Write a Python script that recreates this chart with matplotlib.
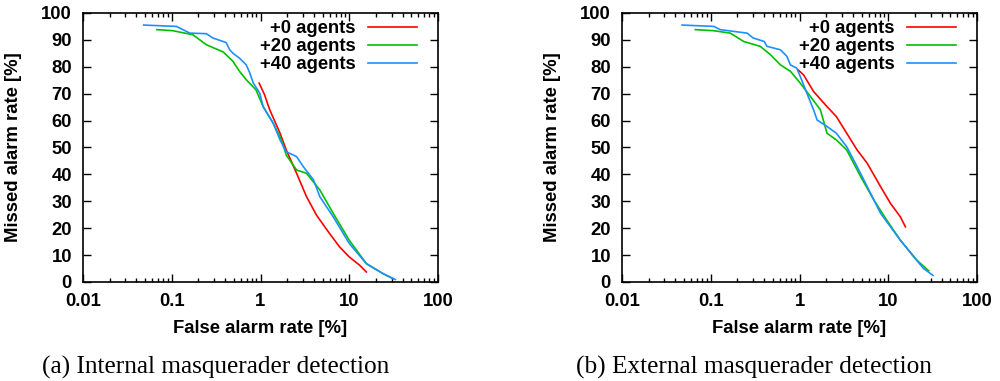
import matplotlib
matplotlib.use("Agg")
import matplotlib.pyplot as plt
import numpy as np

# panel (a) internal masquerader detection
int_fa_0 = [0.966, 1.11, 1.27, 1.66, 1.95, 2.55, 3.3, 4.28, 6.0, 7.8, 10, 13.1, 15.6]
int_ma_0 = [73.9, 69.6, 64.0, 55.3, 49.1, 40.4, 31.7, 24.8, 18.0, 13.0, 9.3, 6.2, 3.7]
int_fa_20 = [0.068, 0.103, 0.173, 0.245, 0.38, 0.49, 0.58, 0.69, 0.89, 1.07, 1.39, 1.72,
             1.95, 2.55, 3.3, 4.66, 6.6, 10, 15.6, 24, 31]
int_ma_20 = [93.8, 93.4, 91.9, 88.2, 85.5, 82.0, 78.3, 75.2, 71.4, 65.2, 59.0, 52.8,
             47.2, 41.6, 40.4, 34.2, 25.5, 15.5, 6.8, 3.1, 1.2]
int_fa_40 = [0.0483, 0.113, 0.16, 0.245, 0.29, 0.41, 0.45, 0.49, 0.58, 0.69, 0.76, 0.83,
             0.98, 1.07, 1.39, 1.66, 1.95, 2.55, 3.03, 3.96, 4.66, 6.6, 10, 15.6, 24, 33]
int_ma_40 = [95.5, 95.0, 92.5, 92.3, 90.7, 89.0, 86.3, 85.0, 83.2, 80.7, 77.6, 73.9,
             70.2, 65.2, 59.0, 52.8, 48.4, 46.6, 42.9, 37.9, 31.7, 24.2, 14.3, 6.8, 3.1, 0.9]

# panel (b) external masquerader detection
ext_fa_0 = [0.96, 1.11, 1.44, 2.04, 2.6, 3.4, 4.45, 5.8, 8.2, 10.6, 13.7, 15.6]
ext_ma_0 = [78.9, 77.0, 70.8, 65.2, 61.5, 55.3, 49.1, 44.1, 35.4, 29.2, 24.2, 20.5]
ext_fa_20 = [0.067, 0.108, 0.166, 0.235, 0.36, 0.47, 0.61, 0.79, 1.02, 1.33, 1.72, 2.04,
             2.6, 3.4, 4.9, 6.9, 9.6, 13.7, 21, 28.6]
ext_ma_20 = [93.8, 93.4, 92.5, 89.4, 87.6, 84.5, 80.7, 78.3, 73.9, 68.9, 64.0, 55.3,
             52.8, 49.1, 39.1, 30.4, 23.0, 15.5, 8.1, 4.1]
ext_fa_40 = [0.0475, 0.108, 0.128, 0.257, 0.30, 0.40, 0.43, 0.61, 0.72, 0.79, 0.93, 1.02,
             1.21, 1.44, 1.58, 2.04, 2.6, 3.4, 4.45, 5.8, 8.2, 10.6, 13.7, 19.4, 25, 32]
ext_ma_40 = [95.5, 95.0, 93.8, 92.5, 90.7, 89.4, 87.6, 86.3, 83.9, 80.7, 79.5, 76.4,
             70.2, 64.0, 60.2, 57.8, 55.3, 50.3, 42.9, 35.4, 25.5, 20.5, 15.5, 9.3, 5.0, 2.4]

labels = ["+0 agents", "+20 agents", "+40 agents"]
colors = ["#ff0000", "#00c000", "#1e8fff"]
captions = ["(a) Internal masquerader detection", "(b) External masquerader detection"]

panels = [
    [(int_fa_0, int_ma_0), (int_fa_20, int_ma_20), (int_fa_40, int_ma_40)],
    [(ext_fa_0, ext_ma_0), (ext_fa_20, ext_ma_20), (ext_fa_40, ext_ma_40)],
]

plt.rcParams['font.family'] = ['Liberation Sans', 'DejaVu Sans']
plt.rcParams['font.weight'] = 'bold'

fig = plt.figure(figsize=(10, 3.81), dpi=100)
lefts = [0.083, 0.622]
cap_x = [0.216, 0.754]

for k in range(2):
    ax = fig.add_axes([lefts[k], 0.26, 0.355, 0.706])
    for (fa, ma), lab, col in zip(panels[k], labels, colors):
        ax.plot(fa, ma, color=col, lw=1.2, label=lab)
    ax.set_xscale('log')
    ax.set_xlim(0.01, 100)
    ax.set_ylim(0, 100)
    ax.set_yticks(np.arange(0, 101, 10))
    ax.set_xticks([0.01, 0.1, 1, 10, 100])
    ax.set_xticklabels(["0.01", "0.1", "1", "10", "100"])
    ax.tick_params(which='both', direction='in', top=True, right=True, labelsize=13.3)
    ax.tick_params(which='major', length=6, width=1)
    ax.tick_params(which='minor', length=3, width=1)
    ax.tick_params(axis='x', pad=8)
    ax.tick_params(axis='y', pad=8)
    for s in ax.spines.values():
        s.set_linewidth(1.2)
    ax.set_xlabel("False alarm rate [%]", fontsize=13.3, fontweight='bold', labelpad=7)
    ax.set_ylabel("Missed alarm rate [%]", fontsize=13.3, fontweight='bold', labelpad=14)
    ax.legend(loc='upper right', bbox_to_anchor=(0.963, 1.0), frameon=False,
              markerfirst=False, fontsize=13.3, handlelength=2.7, handletextpad=0.65,
              labelspacing=0.05, borderaxespad=0)
    fig.text(cap_x[k], 0.035, captions[k], ha='center', va='center', fontsize=18.2,
             fontweight='normal', family='Liberation Serif')

fig.savefig("out.png", dpi=100)
